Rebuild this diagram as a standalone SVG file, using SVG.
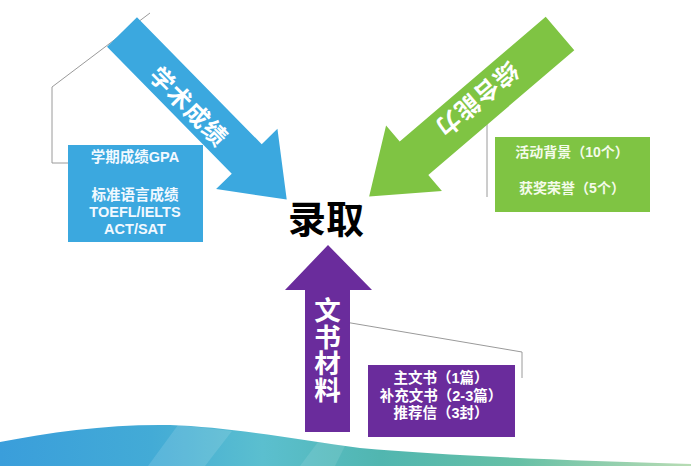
<svg xmlns="http://www.w3.org/2000/svg" width="691" height="466" viewBox="0 0 691 466">
  <style>
    .lbl { font-family: "Liberation Sans", "Noto Sans CJK SC", sans-serif; font-weight: bold; text-anchor: middle; dominant-baseline: central; }
    .cjk { font-family: "Noto Sans CJK SC", "Liberation Sans", sans-serif; font-weight: bold; text-anchor: middle; dominant-baseline: central; }
    .vert { font-family: "Noto Sans CJK SC", sans-serif; font-weight: bold; text-anchor: middle; writing-mode: vertical-rl; }
    .callout { fill: none; stroke: #9a9a9a; stroke-width: 1; }
    .blue { fill: #3ba8df; }
    .green { fill: #7fc443; }
    .purple { fill: #6a2c9c; }
  </style>
  <defs>
    <linearGradient id="waveGrad" x1="0" y1="0" x2="1" y2="0">
      <stop offset="0" stop-color="#3a9edb"/>
      <stop offset="0.22" stop-color="#43abd6"/>
      <stop offset="0.38" stop-color="#5bbfcf"/>
      <stop offset="0.55" stop-color="#51b6b0"/>
      <stop offset="0.75" stop-color="#66c0a6"/>
      <stop offset="1" stop-color="#b8dcb4"/>
    </linearGradient>
  </defs>
  <rect width="691" height="466" fill="#ffffff"/>

  <g id="wave">
    <path d="M0,442 C50,432 110,424 170,425 C230,427 300,440 360,448 C450,456 560,460 691,464 L691,466 L0,466 Z" fill="url(#waveGrad)"/>
    <path d="M148,466 L178,425 L232,431 L205,466 Z" fill="#ffffff" opacity="0.12"/>
    <path d="M300,466 L318,442 L345,446 L335,466 Z" fill="#ffffff" opacity="0.1"/>
  </g>

  <g id="connectors">
    <polyline class="callout" points="68,163 52,163 52,87 150,13"/>
    <line class="callout" x1="487" y1="100" x2="487" y2="197" stroke="#8fb0b0"/>
    <polyline class="callout" points="345,322 522,352 522,378"/>
  </g>

  <g id="node-academic-arrow">
    <g transform="translate(122,32) rotate(45.5)">
      <polygon class="blue" points="0,-21 178,-21 178,-43 235,0 178,43 178,21 0,21"/>
      <text class="cjk" x="100" y="3" font-size="24" fill="#ffffff" letter-spacing="1">学术成绩</text>
    </g>
  </g>

  <g id="node-academic-box">
    <rect class="blue" x="68" y="145" width="135" height="97"/>
    <text class="lbl" x="135" y="157" font-size="14.5" fill="#f2f9ff">学期成绩GPA</text>
    <text class="lbl" x="135" y="195" font-size="14.5" fill="#f2f9ff">标准语言成绩</text>
    <text class="lbl" x="135" y="212" font-size="14.5" fill="#f2f9ff">TOEFL/IELTS</text>
    <text class="lbl" x="135" y="229" font-size="14.5" fill="#f2f9ff">ACT/SAT</text>
  </g>

  <g id="node-comprehensive-arrow">
    <g transform="translate(560,33.5) rotate(139.5)">
      <polygon class="green" points="0,-22 192,-22 192,-43 251,0 192,43 192,22 0,22"/>
      <text class="cjk" x="106" y="2" font-size="24" fill="#ffffff" letter-spacing="1">综合能力</text>
    </g>
  </g>

  <g id="node-comprehensive-box">
    <rect class="green" x="495" y="137" width="155" height="75"/>
    <text class="lbl" x="572" y="152" font-size="14" fill="#f4fbea">活动背景（10个）</text>
    <text class="lbl" x="572" y="188" font-size="14" fill="#f4fbea">获奖荣誉（5个）</text>
  </g>

  <g id="node-documents-arrow">
    <polygon class="purple" points="305,432 305,290 285,290 328,245 372,290 350,290 350,432"/>
    <text class="vert" x="327.5" y="350" font-size="26.5" fill="#ffffff">文书材料</text>
  </g>

  <g id="node-documents-box">
    <rect class="purple" x="368" y="365" width="147" height="72"/>
    <text class="lbl" x="441" y="378" font-size="14.5" fill="#ffffff">主文书（1篇）</text>
    <text class="lbl" x="441" y="396" font-size="14.5" fill="#ffffff">补充文书（2-3篇）</text>
    <text class="lbl" x="441" y="413" font-size="14.5" fill="#ffffff">推荐信（3封）</text>
  </g>

  <g id="node-admission">
    <text class="cjk" x="326" y="216" font-size="38" font-weight="900" fill="#000000">录取</text>
  </g>
</svg>
